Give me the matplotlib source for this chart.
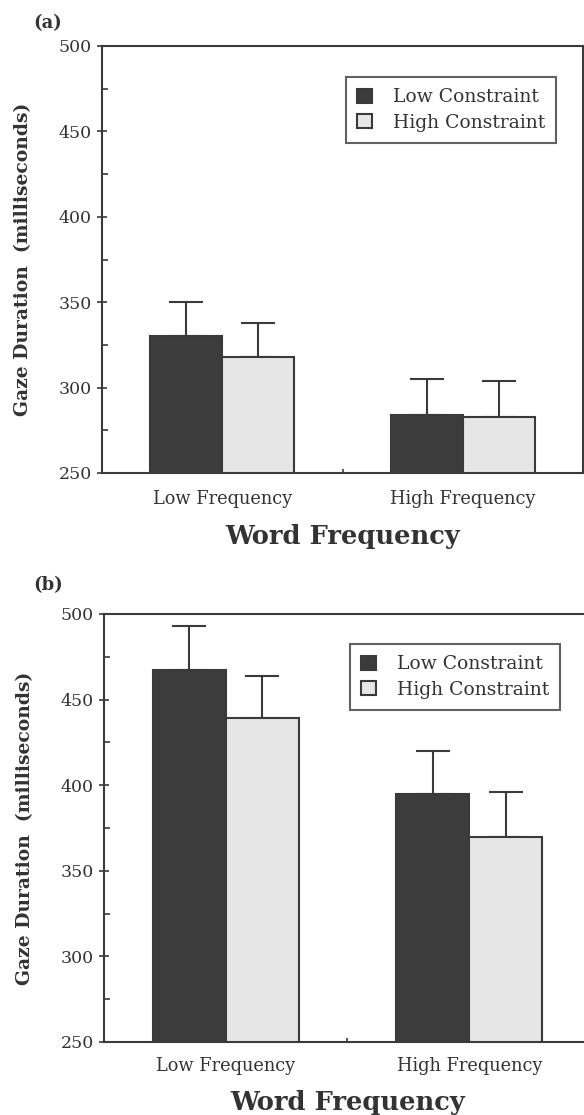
import matplotlib
matplotlib.use("Agg")
import matplotlib.pyplot as plt
from matplotlib.patches import Patch
from matplotlib.ticker import MultipleLocator, FixedLocator
import numpy as np

categories = ["Low Frequency", "High Frequency"]
series_names = ["Low Constraint", "High Constraint"]

a_low = [330, 284]
a_high = [318, 283]
a_low_err = [20, 21]
a_high_err = [20, 21]

b_low = [467, 395]
b_high = [439, 370]
b_low_err = [26, 25]
b_high_err = [25, 26]

y_ticks = [250, 300, 350, 400, 450, 500]

DARK = "#3c3c3c"
LIGHT = "#e6e6e6"
EDGE = "#3a3a3a"
TXT = "#333333"

plt.rcParams["font.family"] = ["DejaVu Serif"]

fig = plt.figure(figsize=(5.84, 11.15), dpi=100)

def panel(rect, low, high, lerr, herr, legend_rect, tickpad, xlabpad):
    ax = fig.add_axes(rect)
    x = np.arange(len(categories))
    w = 0.3
    ax.bar(x - w/2, low, w, color=DARK, edgecolor=EDGE, linewidth=1.5, zorder=2)
    ax.bar(x + w/2, high, w, color=LIGHT, edgecolor=EDGE, linewidth=1.5, zorder=2)
    ax.errorbar(x - w/2, low, yerr=[np.zeros(len(low)), lerr], fmt="none",
                ecolor=EDGE, elinewidth=1.5, capsize=12, capthick=1.5, zorder=1)
    ax.errorbar(x + w/2, high, yerr=[np.zeros(len(high)), herr], fmt="none",
                ecolor=EDGE, elinewidth=1.5, capsize=12, capthick=1.5, zorder=1)
    ax.set_ylim(250, 500)
    ax.set_xlim(-0.5, 1.5)
    ax.set_yticks(y_ticks)
    ax.yaxis.set_minor_locator(MultipleLocator(25))
    ax.set_xticks(x)
    ax.set_xticklabels(categories, fontsize=12.8, color=TXT)
    ax.xaxis.set_minor_locator(FixedLocator([0.5]))
    ax.tick_params(axis="x", which="major", length=0, pad=tickpad)
    ax.tick_params(axis="x", which="minor", length=3, direction="in", width=1.2, color=EDGE)
    ax.tick_params(axis="y", which="major", length=7, direction="inout", width=1.2, color=EDGE,
                   labelsize=12.5, labelcolor=TXT, pad=4)
    ax.tick_params(axis="y", which="minor", length=4, direction="in", width=1.2, color=EDGE)
    for s in ax.spines.values():
        s.set_color(EDGE)
        s.set_linewidth(1.5)
    ax.set_xlabel("Word Frequency", fontsize=18.5, fontweight="bold", color=TXT, labelpad=xlabpad)
    ax.set_ylabel("Gaze Duration  (milliseconds)", fontsize=13.5, fontweight="bold",
                  color=TXT, labelpad=19)
    handles = [Patch(facecolor=DARK, edgecolor=EDGE, linewidth=1.5),
               Patch(facecolor=LIGHT, edgecolor=EDGE, linewidth=1.5)]
    leg = ax.legend(handles, series_names, loc="upper left", bbox_to_anchor=legend_rect,
                    bbox_transform=fig.transFigure, frameon=True, fancybox=False,
                    edgecolor=EDGE, fontsize=13.5, handlelength=0.8, handleheight=0.8,
                    handletextpad=1.1, borderpad=0.6, labelspacing=0.4, borderaxespad=0)
    leg.get_frame().set_linewidth(1.5)
    for t in leg.get_texts():
        t.set_color(TXT)
    return ax

W, H = 584, 1115
axa = panel([102/W, 1 - 473/H, (583-102)/W, (473-46)/H], a_low, a_high, a_low_err, a_high_err,
            (346/W, 1 - 77/H), 12, 12)
axb = panel([104/W, 1 - 1042/H, (591-104)/W, (1042-614)/H], b_low, b_high, b_low_err, b_high_err,
            (350/W, 1 - 644/H), 10.5, 11)

fig.text(33/W, 1 - 23/H, "(a)", fontsize=13, fontweight="bold", color=TXT, va="center", ha="left")
fig.text(33/W, 1 - 585/H, "(b)", fontsize=13, fontweight="bold", color=TXT, va="center", ha="left")

fig.savefig("out.png", dpi=100)
